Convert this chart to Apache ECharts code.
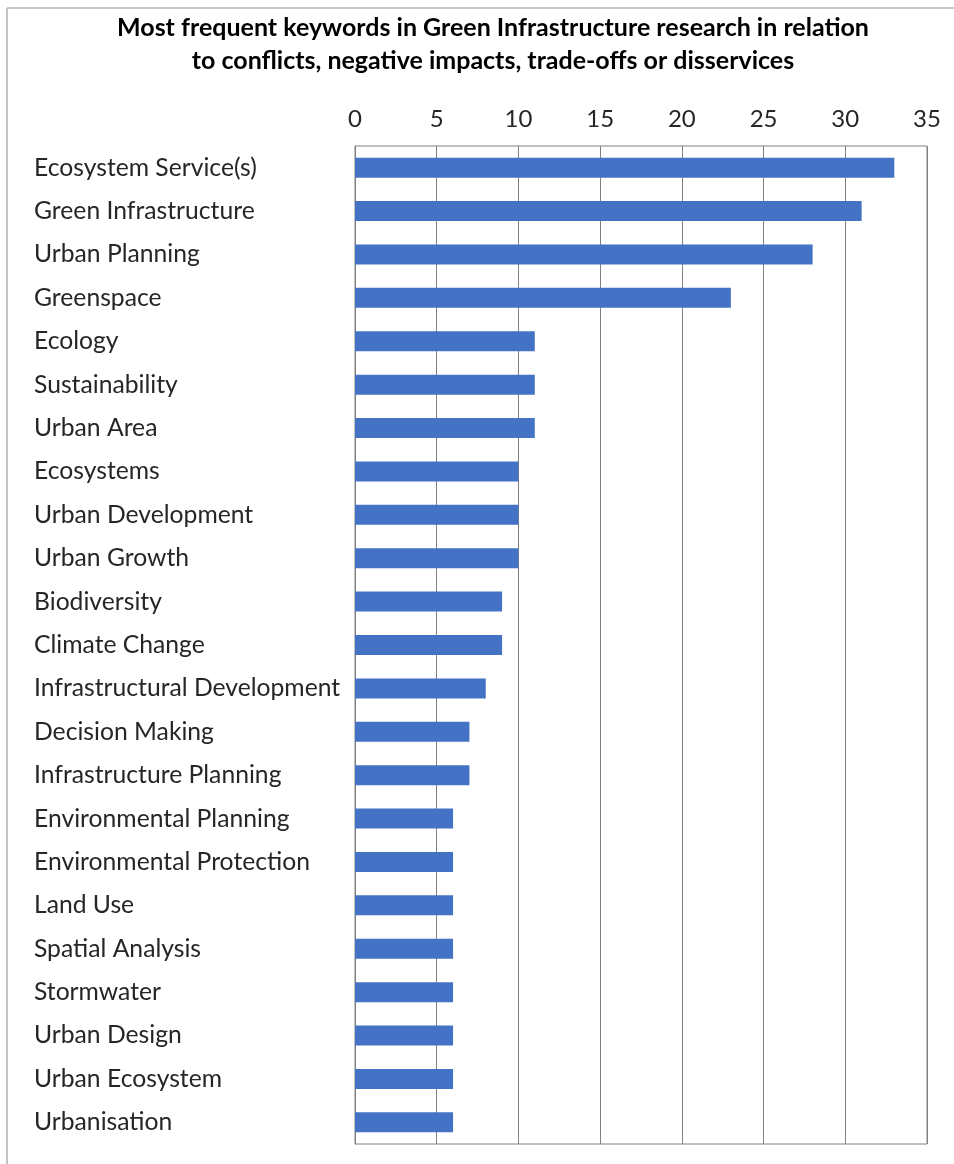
<!DOCTYPE html>
<html>
<head>
<meta charset="utf-8">
<script src="https://cdn.jsdelivr.net/npm/echarts@6/dist/echarts.min.js"></script>
<style>
  html, body { margin: 0; padding: 0; background: #fff; }
  #chart { width: 954px; height: 1164px; }
</style>
</head>
<body>
<div id="chart"></div>
<script>
// Keyword frequencies (number of publications)
const keywords = [
  'Ecosystem Service(s)', 'Green Infrastructure', 'Urban Planning', 'Greenspace',
  'Ecology', 'Sustainability', 'Urban Area', 'Ecosystems', 'Urban Development',
  'Urban Growth', 'Biodiversity', 'Climate Change', 'Infrastructural Development',
  'Decision Making', 'Infrastructure Planning', 'Environmental Planning',
  'Environmental Protection', 'Land Use', 'Spatial Analysis', 'Stormwater',
  'Urban Design', 'Urban Ecosystem', 'Urbanisation'
];
const counts = [33, 31, 28, 23, 11, 11, 11, 10, 10, 10, 9, 9, 8, 7, 7, 6, 6, 6, 6, 6, 6, 6, 6];
const xTicks = { min: 0, max: 35, step: 5 };
const titleLines = [
  'Most frequent keywords in Green Infrastructure research in relation',
  'to conflicts, negative impacts, trade-offs or disservices'
];

const FONT = 'Lato';
const TEXT = '#262626';
const GRIDC = '#808080';

const chart = echarts.init(document.getElementById('chart'), null, { renderer: 'canvas' });
chart.setOption({
  backgroundColor: '#fff',
  animation: false,
  title: {
    text: titleLines.join('\n'),
    left: 488,
    textAlign: 'center',
    top: 6,
    textStyle: { fontFamily: FONT, fontWeight: 'bold', fontSize: 25, lineHeight: 33, color: '#000' }
  },
  graphic: [
    { type: 'line', shape: { x1: 7, y1: 8, x2: 954, y2: 8 }, style: { stroke: '#c4c4c4', lineWidth: 2 } },
    { type: 'line', shape: { x1: 7, y1: 8, x2: 7, y2: 1164 }, style: { stroke: '#c4c4c4', lineWidth: 2 } }
  ],
  grid: {
    left: 355, right: 27, top: 146, bottom: 20,
    show: true, borderColor: GRIDC, borderWidth: 1, backgroundColor: 'transparent'
  },
  xAxis: {
    type: 'value', position: 'top',
    min: xTicks.min, max: xTicks.max, interval: xTicks.step,
    axisLine: { show: false },
    axisTick: { show: false },
    splitLine: { show: true, lineStyle: { color: GRIDC, width: 1 } },
    axisLabel: { fontFamily: FONT, fontSize: 24, color: TEXT, margin: 15 }
  },
  yAxis: {
    type: 'category', data: keywords, inverse: true,
    axisLine: { show: true, lineStyle: { color: GRIDC, width: 1 } },
    axisTick: { show: false },
    axisLabel: { fontFamily: FONT, fontSize: 24.7, color: TEXT, align: 'left', margin: 321 }
  },
  series: [{
    type: 'bar', data: counts, barWidth: 20,
    itemStyle: { color: '#4472C4' }
  }]
});
</script>
</body>
</html>
